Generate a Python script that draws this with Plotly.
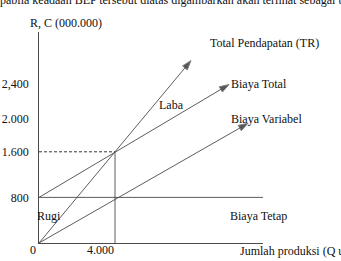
import plotly.graph_objects as go

# ---- data ----
q_tr = [0, 8000]
r_tr = [0, 3200]          # Total Pendapatan (TR)
q_tc = [0, 10000]
c_tc = [800, 2780]        # Biaya Total
q_vc = [0, 11000]
c_vc = [0, 2100]          # Biaya Variabel
fixed_cost = 800          # Biaya Tetap
q_bep = 4000
r_bep = 1600

y_tick_vals = [800, 1600, 2180, 2790]
y_tick_text = ["800", "1.600", "2.000", "2,400"]
x_tick_vals = [0, 4000]
x_tick_text = ["0", "4.000"]

# ---- layout geometry ----
W, H = 341, 261
L, R, T, B = 39, 78, 32, 18
X_MAX = 11789
Y_MAX = 3702
FONT = "Liberation Serif, Times New Roman, serif"
LINE = "#4a4a4a"

def px(x):
    return (x - L) / (W - L - R)

def py(y):
    return (H - B - y) / (H - T - B)

fig = go.Figure()

def arrow_line(q, v):
    fig.add_trace(go.Scatter(
        x=q, y=v, mode="lines+markers",
        line=dict(color=LINE, width=0.9),
        marker=dict(symbol="arrow", size=[0, 10], angleref="previous",
                    color="#111"),
        hoverinfo="skip", showlegend=False, cliponaxis=False))

arrow_line(q_tr, r_tr)
arrow_line(q_tc, c_tc)
arrow_line(q_vc, c_vc)

# fixed cost line
fig.add_trace(go.Scatter(x=[0, X_MAX], y=[fixed_cost, fixed_cost], mode="lines",
                         line=dict(color=LINE, width=0.9),
                         hoverinfo="skip", showlegend=False))
# BEP guide lines
fig.add_trace(go.Scatter(x=[0, q_bep], y=[r_bep, r_bep], mode="lines",
                         line=dict(color="#222", width=0.9, dash="3px,2px"),
                         hoverinfo="skip", showlegend=False))
fig.add_trace(go.Scatter(x=[q_bep, q_bep], y=[0, r_bep], mode="lines",
                         line=dict(color=LINE, width=0.9),
                         hoverinfo="skip", showlegend=False))

fig.update_xaxes(range=[0, X_MAX], showgrid=False, zeroline=False,
                 showline=True, linecolor=LINE, linewidth=0.9,
                 showticklabels=False, ticks="", automargin=False)
fig.update_yaxes(range=[0, Y_MAX], showgrid=False, zeroline=False,
                 showline=True, linecolor=LINE, linewidth=0.9,
                 tickvals=y_tick_vals, ticktext=y_tick_text, ticks="",
                 ticklabelstandoff=7, automargin=False,
                 tickfont=dict(family=FONT, size=12, color="#111"))

anns = []

def label(text, x, y, xanchor="left", yanchor="middle", size=12):
    anns.append(dict(text=text, x=px(x), y=py(y), xref="paper", yref="paper",
                     xanchor=xanchor, yanchor=yanchor, showarrow=False,
                     font=dict(family=FONT, size=size, color="#111")))

label("pabila keadaan BEP tersebut diatas digambarkan akan terlihat sebagai berikut:", -2, 0, size=12)
label("R, C (000.000)", 28, 23)
label("Total Pendapatan (TR)", 208, 43)
label("Laba", 157, 105)
label("Biaya Total", 229, 84)
label("Biaya Variabel", 229, 119)
label("Rugi", 35, 216)
label("Biaya Tetap", 228, 216)
label("Jumlah produksi (Q unit)", 238, 251)
for v, t, c in zip(x_tick_vals, x_tick_text, [33, 100]):
    label(t, c, 250, xanchor="center")

fig.update_layout(width=W, height=H, autosize=False,
                  margin=dict(l=L, r=R, t=T, b=B, pad=0, autoexpand=False),
                  paper_bgcolor="white", plot_bgcolor="white",
                  annotations=anns,
                  font=dict(family=FONT, size=12, color="#111"))

fig.write_html("out.html", config={"displayModeBar": False})
